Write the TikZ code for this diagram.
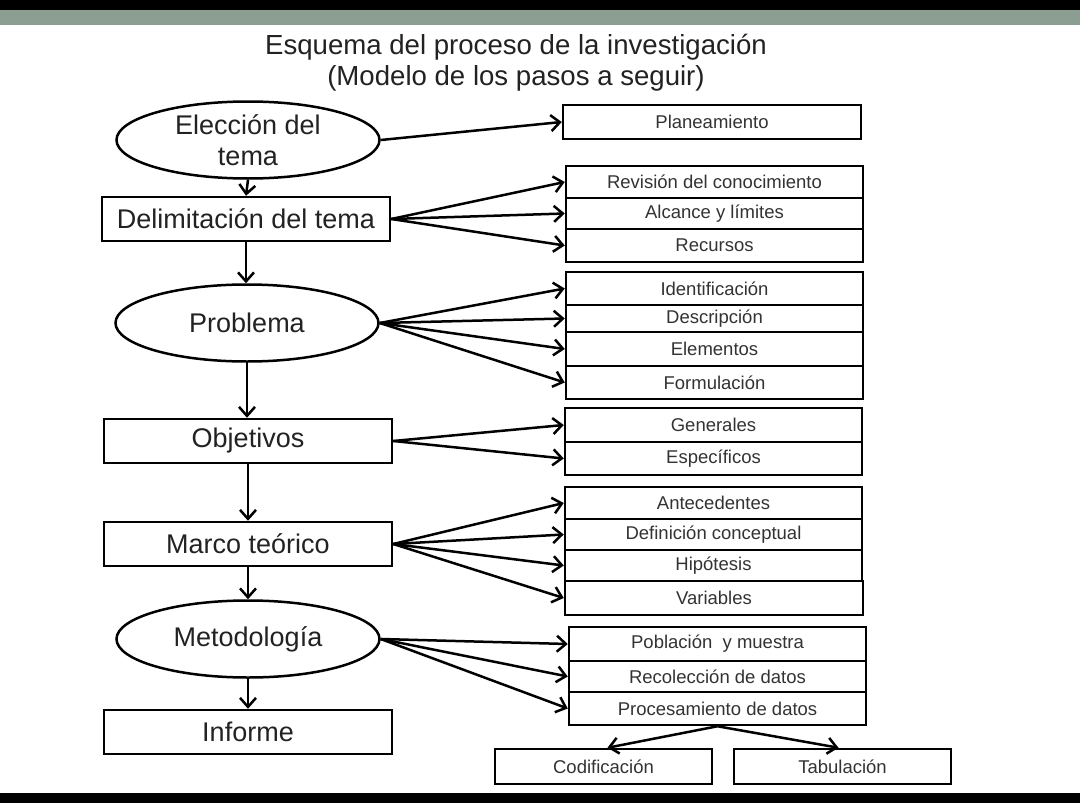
\documentclass[tikz,border=0pt]{standalone}
\usepackage{fontspec}
\setmainfont{Liberation Sans}
\usetikzlibrary{shapes.geometric,arrows.meta}
\definecolor{stripgreen}{HTML}{8C9E92}
\definecolor{txt}{HTML}{222222}
\definecolor{rtxt}{HTML}{333333}
\tikzset{
  lbox/.style={draw=black, line width=2.5pt, rectangle, inner sep=0pt, minimum width=288pt, minimum height=44pt, text=txt, font=\fontsize{27}{31}\selectfont},
  lell/.style={draw=black, line width=2.5pt, ellipse, inner sep=0pt, minimum width=263pt, minimum height=77pt, text=txt, font=\fontsize{27}{31}\selectfont, align=center},
  rbox/.style={draw=black, line width=2.5pt, rectangle, inner sep=0pt, minimum width=297pt, text=rtxt, font=\fontsize{18.5}{22}\selectfont},
  bbox/.style={draw=black, line width=2.5pt, rectangle, inner sep=0pt, minimum width=217pt, minimum height=35pt, text=rtxt, font=\fontsize{18.5}{22}\selectfont},
  arr/.style={line width=2.5pt, -{Straight Barb[length=9pt,width=16pt,line width=2.5pt]}},
  ttl/.style={text=txt, font=\fontsize{27.6}{31}\selectfont}
}
\begin{document}
\begin{tikzpicture}[x=1pt,y=-1pt]
\useasboundingbox (0,0) rectangle (1080,803);
\fill[white] (0,0) rectangle (1080,803);
\fill[black] (0,0) rectangle (1080,10);
\fill[stripgreen] (0,10) rectangle (1080,25);
\fill[black] (0,793) rectangle (1080,803);

\node[ttl] (t1) at (516,47) {Esquema del proceso de la investigación};
\node[ttl] (t2) at (516,78) {(Modelo de los pasos a seguir)};

% left column
\node[lell] (elec) at (248,140) {Elección del\\tema};
\node[lbox] (delim) at (246,219) {Delimitación del tema};
\node[lell] (prob) at (247,323) {Problema};
\node[lbox] (obj) at (248,441) {Objetivos};
\node[lbox] (marco) at (248,544) {Marco teórico};
\node[lell] (met) at (248,639) {Metodología};
\node[lbox] (inf) at (248,732) {Informe};

\draw[arr] (elec.south) -- (delim.north);
\draw[arr] (delim.south) -- (delim.south |- prob.north);
\draw[arr] (prob.south) -- (obj.north -| prob.south);
\draw[arr] (obj.south) -- (marco.north);
\draw[arr] (marco.south) -- (met.north);
\draw[arr] (met.south) -- (inf.north);

% right column
\node[rbox, minimum height=34pt, minimum width=298pt] (plan) at (712,122) {Planeamiento};

\node[rbox, minimum height=32pt] (rev) at (714.5,182) {Revisión del conocimiento};
\node[rbox, minimum height=31pt] (alc) at (714.5,213.5) {Alcance y límites};
\node[rbox, minimum height=33pt] (rec) at (714.5,245.5) {Recursos};

\node[rbox, minimum height=33pt] (ident) at (714.5,288.5) {Identificación};
\node[rbox, minimum height=27pt] (desc) at (714.5,318.5) {Descripción};
\node[rbox, minimum height=34pt] (elem) at (714.5,349) {Elementos};
\node[rbox, minimum height=33pt] (form) at (714.5,382.5) {Formulación};

\node[rbox, minimum height=34pt] (gen) at (713.5,425) {Generales};
\node[rbox, minimum height=33pt] (esp) at (713.5,458.5) {Específicos};

\node[rbox, minimum height=32pt] (ant) at (713.5,503) {Antecedentes};
\node[rbox, minimum height=31pt] (defc) at (713.5,534.5) {Definición conceptual};
\node[rbox, minimum height=31pt] (hip) at (713.5,565.5) {Hipótesis};
\node[rbox, minimum height=34pt, minimum width=298pt] (var) at (714,598) {Variables};

\node[rbox, minimum height=34pt] (pob) at (717.5,644) {Población \ y muestra};
\node[rbox, minimum height=31pt] (reco) at (717.5,676.5) {Recolección de datos};
\node[rbox, minimum height=33pt] (proc) at (717.5,708.5) {Procesamiento de datos};

\node[bbox] (cod) at (603.5,766.5) {Codificación};
\node[bbox] (tab) at (842.5,766.5) {Tabulación};

% connectors
\draw[arr] (elec.east) -- (plan.west);
\foreach \n in {rev,alc,rec} \draw[arr] (delim.east) -- (\n.west);
\foreach \n in {ident,desc,elem,form} \draw[arr] (prob.east) -- (\n.west);
\foreach \n in {gen,esp} \draw[arr] (obj.east) -- (\n.west);
\foreach \n in {ant,defc,hip,var} \draw[arr] (marco.east) -- (\n.west);
\foreach \n in {pob,reco,proc} \draw[arr] (met.east) -- (\n.west);
\draw[arr] (proc.south) -- ([xshift=4pt]cod.north);
\draw[arr] (proc.south) -- ([xshift=-4pt]tab.north);
\end{tikzpicture}
\end{document}
